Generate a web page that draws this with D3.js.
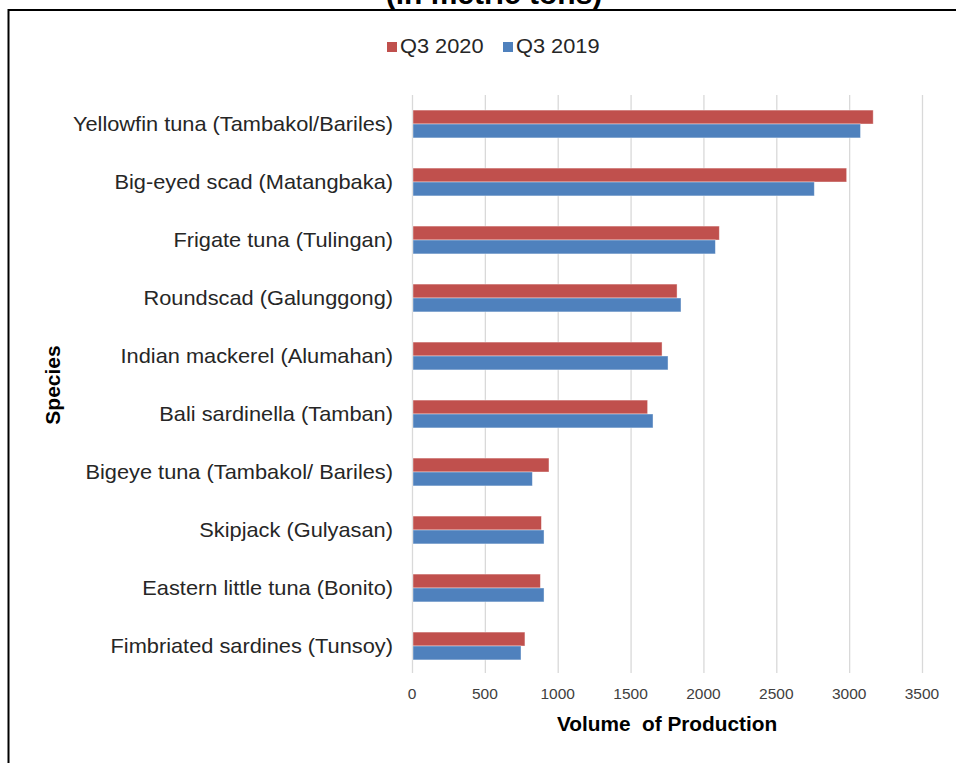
<!DOCTYPE html>
<html><head><meta charset="utf-8">
<script src="https://cdn.jsdelivr.net/npm/d3@7"></script>
<style>body{margin:0;background:#fff;}svg{display:block;font-family:"Liberation Sans",Arial,sans-serif;}</style>
</head><body>
<script>
const categories = ["Yellowfin tuna (Tambakol/Bariles)","Big-eyed scad (Matangbaka)","Frigate tuna (Tulingan)","Roundscad (Galunggong)","Indian mackerel (Alumahan)","Bali sardinella (Tamban)","Bigeye tuna (Tambakol/ Bariles)","Skipjack (Gulyasan)","Eastern little tuna (Bonito)","Fimbriated sardines (Tunsoy)"];
const q3_2020 = [3165, 2983, 2109, 1819, 1716, 1617, 940, 888, 881, 775];
const q3_2019 = [3078, 2761, 2082, 1846, 1757, 1654, 826, 906, 906, 748];
const seriesNames = ["Q3 2020","Q3 2019"];
const xTicks = [0,500,1000,1500,2000,2500,3000,3500];

const W=956,H=763;
const svg=d3.select("body").append("svg").attr("width",W).attr("height",H);
svg.append("rect").attr("width",W).attr("height",H).attr("fill","#fff");

const x=d3.scaleLinear().domain([0,3500]).range([412,922]);
const y=d3.scaleBand().domain(categories).range([95,675]).paddingInner(0.52).paddingOuter(0.26);
const sub=d3.scaleBand().domain(seriesNames).range([0,y.bandwidth()]);
const colors={"Q3 2020":"#C0504D","Q3 2019":"#4F81BD"};

// title (cut off at the top in the reference)
svg.append("text").attr("x",494).attr("y",4).attr("text-anchor","middle").attr("font-size",30).attr("font-weight","bold").attr("fill","#000").text("(in metric tons)");
// border
svg.append("line").attr("x1",8).attr("x2",W).attr("y1",10).attr("y2",10).attr("stroke","#000").attr("stroke-width",2);
svg.append("line").attr("x1",8.5).attr("x2",8.5).attr("y1",9).attr("y2",H).attr("stroke","#000").attr("stroke-width",2);

// grid
svg.append("g").selectAll("line").data(xTicks).join("line")
  .attr("x1",d=>x(d)+0.5).attr("x2",d=>x(d)+0.5).attr("y1",95).attr("y2",673)
  .attr("stroke","#d9d9d9").attr("stroke-width",1.3);

// bars
const series=[{name:"Q3 2020",values:q3_2020},{name:"Q3 2019",values:q3_2019}];
series.forEach(s=>{
  svg.append("g").selectAll("rect").data(s.values).join("rect")
    .attr("x",x(0)+1).attr("y",(d,i)=>y(categories[i])+sub(s.name))
    .attr("width",d=>x(d)-x(0)-1).attr("height",sub.bandwidth())
    .attr("fill",colors[s.name]).attr("stroke","#fff").attr("stroke-opacity",0.5).attr("stroke-width",0.8);
});

// category labels
svg.append("g").attr("transform","translate(393,0) scale(1.09,1)")
  .selectAll("text").data(categories).join("text")
  .attr("x",0).attr("y",d=>y(d)+y.bandwidth()/2).attr("dy","0.35em")
  .attr("text-anchor","end").attr("font-size",20).attr("fill","#262626").text(d=>d);

// x tick labels
svg.append("g").selectAll("text").data(xTicks).join("text")
  .attr("x",d=>x(d)).attr("y",698.5).attr("text-anchor","middle")
  .attr("font-size",15.5).attr("fill","#404040").text(d=>d);

// axis titles
svg.append("g").attr("transform","translate(667,731) scale(1.04,1)")
  .append("text").attr("x",0).attr("y",0).attr("text-anchor","middle").attr("font-size",20).attr("font-weight","bold").attr("fill","#000").attr("xml:space","preserve").text("Volume  of Production");
svg.append("text").attr("transform","translate(59.5,385) rotate(-90) scale(1.05,1)").attr("text-anchor","middle").attr("font-size",20).attr("font-weight","bold").attr("fill","#000").text("Species");

// legend
const lg=svg.append("g");
const lx=[387,503];
seriesNames.forEach((n,i)=>{
  lg.append("rect").attr("x",lx[i]).attr("y",42).attr("width",10).attr("height",10).attr("fill",colors[n]);
  lg.append("text").attr("transform",`translate(${lx[i]+13},53) scale(1.09,1)`).attr("font-size",20).attr("fill","#262626").text(n);
});
</script>
</body></html>
